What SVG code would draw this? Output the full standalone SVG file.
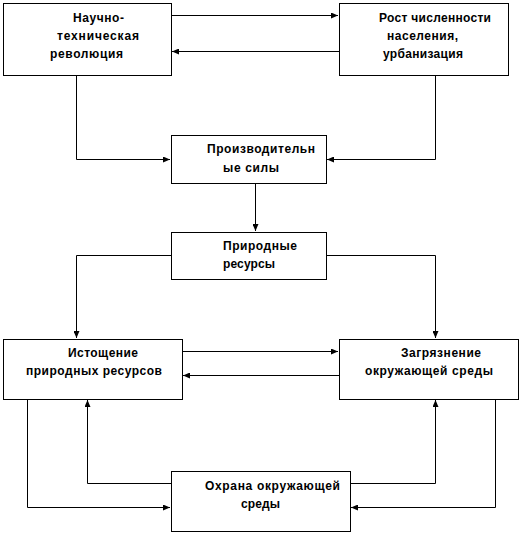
<svg xmlns="http://www.w3.org/2000/svg" width="522" height="534" viewBox="0 0 522 534">
<style>
rect{fill:#fff;stroke:#000;stroke-width:1}
text{font-family:"Liberation Sans",Arial,sans-serif;font-size:12px;font-weight:bold;fill:#000}
.c path{fill:none;stroke:#000;stroke-width:1}
</style>
<defs>
<marker id="a" markerWidth="7" markerHeight="6" refX="7" refY="3" orient="auto" markerUnits="userSpaceOnUse"><path d="M0,0 L7,3 L0,6 Z" fill="#000"/></marker>
</defs>
<g class="c">
<path d="M171.5,15.5 H338" marker-end="url(#a)"/>
<path d="M339.5,51.5 H172" marker-end="url(#a)"/>
<path d="M76.5,75 V159.5 H170" marker-end="url(#a)"/>
<path d="M435.5,75 V159.5 H327" marker-end="url(#a)"/>
<path d="M255.5,183 V231" marker-end="url(#a)"/>
<path d="M171,255.5 H76.5 V338" marker-end="url(#a)"/>
<path d="M326,255.5 H435.5 V338" marker-end="url(#a)"/>
<path d="M182,351.5 H338" marker-end="url(#a)"/>
<path d="M339,375.5 H183" marker-end="url(#a)"/>
<path d="M27.5,399 V507.5 H170" marker-end="url(#a)"/>
<path d="M171,483.5 H87.5 V400" marker-end="url(#a)"/>
<path d="M350,483.5 H435.5 V400" marker-end="url(#a)"/>
<path d="M495.5,399 V507.5 H351" marker-end="url(#a)"/>
</g>
<g id="n1"><rect x="3.5" y="3.5" width="168" height="72"/>
<text x="73" y="22" textLength="51">Научно-</text>
<text x="57" y="40" textLength="82">техническая</text>
<text x="50" y="58" textLength="73">революция</text></g>
<g id="n2"><rect x="339.5" y="3.5" width="169" height="72"/>
<text x="379" y="22" textLength="112">Рост численности</text>
<text x="387" y="40" textLength="71">населения,</text>
<text x="383" y="58" textLength="80">урбанизация</text></g>
<g id="n3"><rect x="171.5" y="135.5" width="155" height="48"/>
<text x="207" y="153" textLength="108">Производительн</text>
<text x="223" y="172" textLength="56">ые силы</text></g>
<g id="n4"><rect x="171.5" y="232.5" width="155" height="47"/>
<text x="223" y="250" textLength="74">Природные</text>
<text x="223" y="268" textLength="52">ресурсы</text></g>
<g id="n5"><rect x="3.5" y="339.5" width="179" height="60"/>
<text x="68" y="357" textLength="70">Истощение</text>
<text x="26" y="375" textLength="136">природных ресурсов</text></g>
<g id="n6"><rect x="339.5" y="339.5" width="179" height="60"/>
<text x="401" y="357" textLength="80">Загрязнение</text>
<text x="365" y="375" textLength="128">окружающей среды</text></g>
<g id="n7"><rect x="171.5" y="471.5" width="179" height="60"/>
<text x="205" y="490" textLength="135">Охрана окружающей</text>
<text x="241" y="508" textLength="39">среды</text></g>
</svg>
